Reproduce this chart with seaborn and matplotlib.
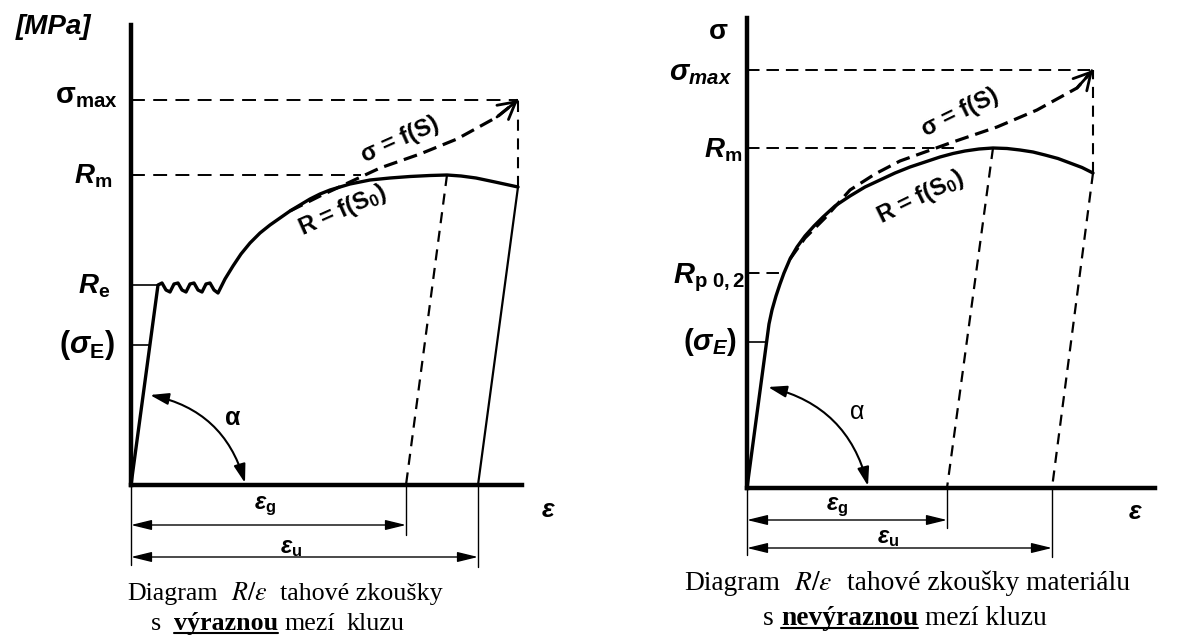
import matplotlib
matplotlib.use("Agg")
import matplotlib.pyplot as plt
from matplotlib.lines import Line2D
import seaborn as sns

# ---------------- left diagram: pronounced yield point ----------------
# engineering strain [%] and stress [MPa]
left_eps_R = [0.0, 2.7, 3.1, 3.5, 3.9, 4.3, 4.7, 5.1, 5.5, 5.9, 6.3, 6.7, 7.1, 7.5, 7.9,
              8.3, 8.7, 9.4, 10.2, 11.0, 11.9, 12.9, 13.9, 14.9, 15.9, 16.9, 17.9, 18.9,
              19.9, 20.9, 21.9, 22.9, 23.9, 25.9, 27.9, 29.9, 31.6, 33.0, 34.5, 36.4, 38.7]
left_R = [0, 200, 202, 195, 193, 201, 202, 195, 193, 201, 202, 195, 193, 201, 202,
          195, 192, 206, 219, 231, 242, 252, 260, 267, 274, 280, 286, 291,
          295, 298, 301, 303, 305, 307, 308.5, 309.5, 310, 309, 307, 303, 298]
left_eps_sigma = [15.9, 18.9, 21.9, 24.9, 28.9, 32.6, 36.6, 38.7]
left_sigma = [274, 289, 303, 317, 331, 346, 368, 385]
left_sigma_max = 385
left_Rm = 310
left_Re = 200
left_sigma_E = 140
left_eps_g = 27.5
left_eps_u = 34.7

# ---------------- right diagram: no pronounced yield point ----------------
right_eps_R = [0.0, 2.2, 2.5, 2.9, 3.3, 3.7, 4.3, 5.0, 5.8, 6.7, 7.6, 8.8, 10.3, 11.8,
               13.3, 14.8, 16.3, 17.8, 19.3, 20.6, 21.8, 23.2, 24.6, 26.0, 27.3, 28.6,
               29.8, 31.1, 32.3, 33.5, 34.6]
right_R = [0, 164, 178, 192, 204, 215, 229, 241, 252, 262, 271, 282, 292, 301,
           308, 315, 321, 326, 331, 334.5, 337, 339, 340, 339.5, 338, 336,
           333, 329.5, 325, 320.5, 315]
right_eps_sigma = [4.3, 5.8, 7.8, 10.3, 12.8, 15.3, 20.3, 25.0, 29.0, 33.0, 34.6]
right_sigma = [229, 250, 270, 298, 314, 327, 345, 361, 378, 400, 418]
right_sigma_max = 418
right_Rm = 340
right_Rp02 = 215
right_sigma_E = 146
right_eps_g = 20.0
right_eps_u = 30.5

sns.set_theme(style="white")
plt.rcParams.update({
    "font.family": ["Liberation Sans", "DejaVu Sans"],
    "mathtext.fontset": "custom",
    "mathtext.rm": "Liberation Sans",
    "mathtext.it": "Liberation Sans:italic",
    "mathtext.bf": "Liberation Sans:bold",
    "mathtext.bfit": "Liberation Sans:italic:bold",
    "lines.scale_dashes": False,
    "text.color": "black",
})

W, H = 1178, 637
PX_EPS = 10.0   # pixels per % of strain
PX_MPA = 1.0    # pixels per MPa
fig = plt.figure(figsize=(W / 100, H / 100), dpi=100)
fig.patch.set_facecolor("white")


def make_panel(ox, oy, right, top):
    ax = fig.add_axes([ox / W, 1 - oy / H, (right - ox) / W, (oy - top) / H])
    ax.set_facecolor("none")
    for side in ("top", "right"):
        ax.spines[side].set_visible(False)
    for side in ("left", "bottom"):
        ax.spines[side].set_color("black")
        ax.spines[side].set_linewidth(3.2)
    ax.set_xticks([])
    ax.set_yticks([])
    lims = ((0, (right - ox) / PX_EPS), (0, (oy - top) / PX_MPA))
    return ax, lims


def draw(ax, x, y, lw=1.5, dash=None):
    kw = dict(color="black", lw=lw, sort=False, estimator=None, ax=ax, legend=False)
    if dash is not None:
        kw["linestyle"] = (0, dash)
    sns.lineplot(x=list(x), y=list(y), **kw)
    ax.lines[-1].set_clip_on(False)
    ax.lines[-1].set_solid_joinstyle("round")


def dim_arrow(ax, x0, x1, y):
    ax.annotate("", xy=(x1, y), xytext=(x0, y), annotation_clip=False,
                arrowprops=dict(arrowstyle="<|-|>,head_length=0.9,head_width=0.22",
                                mutation_scale=14, lw=1.0, color="black",
                                shrinkA=0, shrinkB=0))


def angle_arc(ax, a, b):
    ax.annotate("", xy=b, xytext=a, annotation_clip=False,
                arrowprops=dict(arrowstyle="<|-|>,head_length=0.7,head_width=0.22",
                                mutation_scale=16, lw=1.5, color="black",
                                shrinkA=0, shrinkB=0,
                                connectionstyle="arc3,rad=-0.3"))


def end_arrow(ax, x, y):
    ax.annotate("", xy=(x[-1], y[-1]), xytext=(x[-2], y[-2]), annotation_clip=False,
                arrowprops=dict(arrowstyle="->,head_length=0.55,head_width=0.3",
                                mutation_scale=22, lw=2.0, color="black",
                                shrinkA=0, shrinkB=0))


def level_label(ax, level, text, dx, dy, size=20):
    ax.annotate(text, xy=(0, level), xytext=(-dx, dy), textcoords="offset pixels",
                ha="right", va="baseline", fontsize=size, annotation_clip=False)


def offset_text(ax, xy, text, dx, dy, size=18, **kw):
    ax.annotate(text, xy=xy, xytext=(dx, dy), textcoords="offset pixels",
                ha="center", va="center", fontsize=size, annotation_clip=False, **kw)


def diagram(ax, lims, eps_R, R, eps_s, s, s_max, Rm, eps_g, eps_u, rm_end,
            solid_fracture_unload, lvl_dash):
    draw(ax, eps_R, R, lw=2.4)
    draw(ax, eps_s, s, lw=2.3, dash=(10, 5))
    end_arrow(ax, eps_s, s)
    # helper lines to the stress axis
    draw(ax, [0, eps_s[-1]], [s_max, s_max], lw=1.4, dash=lvl_dash)
    draw(ax, [0, rm_end], [Rm, Rm], lw=1.4, dash=lvl_dash)
    draw(ax, [eps_R[-1], eps_s[-1]], [R[-1], s_max], lw=1.5, dash=(8, 5.5))
    # elastic unloading from the maximum force and from fracture
    k = R.index(max(R))
    draw(ax, [eps_R[k], eps_g], [R[k], 0], lw=1.6, dash=(8, 5.5))
    draw(ax, [eps_R[-1], eps_u], [R[-1], 0], lw=1.6,
         dash=None if solid_fracture_unload else (8, 5.5))
    ax.set_xlim(*lims[0])
    ax.set_ylim(*lims[1])


# ================= left panel =================
axL, limsL = make_panel(131, 485, 522, 25)
diagram(axL, limsL, left_eps_R, left_R, left_eps_sigma, left_sigma, left_sigma_max,
        left_Rm, left_eps_g, left_eps_u, rm_end=23.0, solid_fracture_unload=True,
        lvl_dash=(10, 6))
eps_el_L = left_eps_R[1]
draw(axL, [0, eps_el_L], [left_Re, left_Re], lw=1.2)
draw(axL, [0, eps_el_L * left_sigma_E / left_Re], [left_sigma_E, left_sigma_E], lw=1.2)

level_label(axL, left_sigma_max, r"$\mathbf{σ}_{\mathbf{max}}$", 13, -3, size=21)
level_label(axL, left_Rm, r"$\mathbfit{R}_{\mathbf{m}}$", 19, -9)
level_label(axL, left_Re, r"$\mathbfit{R}_{\mathbf{e}}$", 21, -9)
level_label(axL, left_sigma_E, r"$\mathbf{(}\mathbfit{σ}_{\mathbf{E}}\mathbf{)}$", 16, -8,
            size=22)
offset_text(axL, (0, limsL[1][1]), "[MPa]", -78, -2, size=20,
            fontweight="bold", fontstyle="italic")
offset_text(axL, (limsL[0][1], 0), "ε", 26, -25, size=19,
            fontweight="bold", fontstyle="italic")

axL.text(26.9, 345, "σ = f(S)", rotation=24, rotation_mode="anchor",
         ha="center", va="center", fontsize=17, fontweight="bold")
axL.text(21.2, 275, r"R = f(S$_\mathbf{0}$)", rotation=24, rotation_mode="anchor",
         ha="center", va="center", fontsize=17, fontweight="bold")

angle_arc(axL, (1.9, 90), (11.4, 2))
axL.text(10.2, 67, "α", ha="center", va="center", fontsize=18, fontweight="bold")

draw(axL, [0, 0], [0, -80], lw=1.0)
draw(axL, [left_eps_g, left_eps_g], [0, -50], lw=1.0)
draw(axL, [left_eps_u, left_eps_u], [0, -82], lw=1.0)
dim_arrow(axL, 0, left_eps_g, -40)
dim_arrow(axL, 0, left_eps_u, -72)
axL.text(13.4, -21, r"$\mathbfit{ε}_{\mathbf{g}}$", ha="center", va="center", fontsize=17)
axL.text(16.0, -63, r"$\mathbfit{ε}_{\mathbf{u}}$", ha="center", va="center", fontsize=17)
axL.set_xlim(*limsL[0])
axL.set_ylim(*limsL[1])

# ================= right panel =================
axR, limsR = make_panel(747, 488, 1155, 18)
diagram(axR, limsR, right_eps_R, right_R, right_eps_sigma, right_sigma, right_sigma_max,
        right_Rm, right_eps_g, right_eps_u, rm_end=21.0, solid_fracture_unload=False,
        lvl_dash=(9, 5))
eps_el_R = right_eps_R[1]
k_p = right_R.index(right_Rp02)
draw(axR, [0, right_eps_R[k_p]], [right_Rp02, right_Rp02], lw=1.4, dash=(9, 5))
draw(axR, [0, eps_el_R * right_sigma_E / right_R[1]], [right_sigma_E, right_sigma_E], lw=1.2)

level_label(axR, right_sigma_max, r"$\mathbfit{σ}_{\mathbfit{max}}$", 15, -10, size=21)
level_label(axR, right_Rm, r"$\mathbfit{R}_{\mathbf{m}}$", 5, -10)
level_label(axR, right_Rp02, r"$\mathbfit{R}_{\mathbf{p\ 0,2}}$", 2, -10, size=21)
level_label(axR, right_sigma_E, r"$\mathbf{(}\mathbfit{σ}_{\mathbfit{E}}\mathbf{)}$", 10, -8,
            size=21)
offset_text(axR, (0, limsR[1][1]), "σ", -29, -14, size=20, fontweight="bold")
offset_text(axR, (limsR[0][1], 0), "ε", -20, -24, size=19,
            fontweight="bold", fontstyle="italic")

axR.text(21.3, 375, "σ = f(S)", rotation=26, rotation_mode="anchor",
         ha="center", va="center", fontsize=17, fontweight="bold")
axR.text(17.3, 291, r"R = f(S$_\mathbf{0}$)", rotation=26, rotation_mode="anchor",
         ha="center", va="center", fontsize=17, fontweight="bold")

angle_arc(axR, (2.1, 101), (12.1, 2))
axR.text(11.0, 76, "α", ha="center", va="center", fontsize=18)

draw(axR, [0, 0], [0, -67], lw=1.0)
draw(axR, [right_eps_g, right_eps_g], [0, -40], lw=1.0)
draw(axR, [right_eps_u, right_eps_u], [0, -69], lw=1.0)
dim_arrow(axR, 0, right_eps_g, -32)
dim_arrow(axR, 0, right_eps_u, -60)
axR.text(9.0, -19, r"$\mathbfit{ε}_{\mathbf{g}}$", ha="center", va="center", fontsize=17)
axR.text(14.1, -50, r"$\mathbfit{ε}_{\mathbf{u}}$", ha="center", va="center", fontsize=17)
axR.set_xlim(*limsR[0])
axR.set_ylim(*limsR[1])

# ================= captions =================
renderer = fig.canvas.get_renderer()
SERIF = "Liberation Serif"


def caption_line(cx, base_y, segments, size):
    """segments: (text, bold, underline, gap_after_px)"""
    items = []
    for txt, bold, ul, gap in segments:
        t = fig.text(0, 1 - base_y / H, txt, fontsize=size, family=SERIF,
                     fontweight="bold" if bold else "normal",
                     ha="left", va="baseline", math_fontfamily="stix")
        w = t.get_window_extent(renderer).width
        items.append((t, w, ul, gap))
    total = sum(w + g for _, w, _, g in items) - items[-1][3]
    x = cx - total / 2
    for t, w, ul, gap in items:
        t.set_x(x / W)
        if ul:
            fig.add_artist(Line2D([x / W, (x + w) / W], [1 - (base_y + 3) / H] * 2,
                                  color="black", lw=1.5, transform=fig.transFigure))
        x += w + gap


caption_line(285, 600, [("Diagram", False, False, 13),
                        (r"$\mathit{R/ε}$", False, False, 13),
                        ("tahové zkoušky", False, False, 0)], 18.7)
caption_line(278, 630, [("s", False, False, 13),
                        ("výraznou", True, True, 6),
                        ("mezí", False, False, 12),
                        ("kluzu", False, False, 0)], 18.7)
caption_line(907, 590, [("Diagram", False, False, 14),
                        (r"$\mathit{R/ε}$", False, False, 14),
                        ("tahové zkoušky materiálu", False, False, 0)], 19.8)
caption_line(905, 625, [("s", False, False, 7),
                        ("nevýraznou", True, True, 7),
                        ("mezí kluzu", False, False, 0)], 19.8)

fig.savefig("out.png", dpi=100, facecolor="white")
